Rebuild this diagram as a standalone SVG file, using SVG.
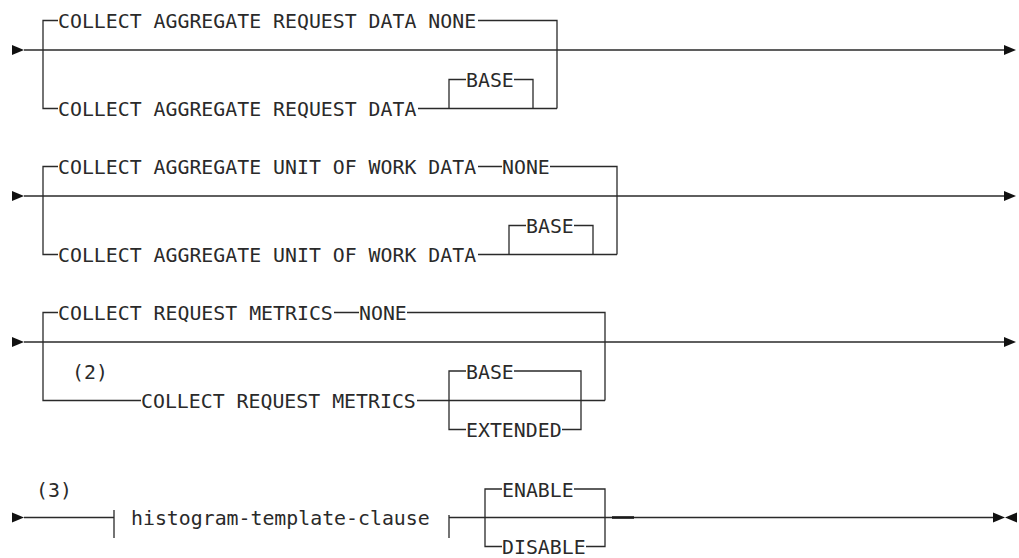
<svg xmlns="http://www.w3.org/2000/svg" width="1019" height="558" viewBox="0 0 1019 558">
<style>
  .ln { stroke: #2a2a2a; stroke-width: 1.3; fill: none; }
  .thick { stroke: #1a1a1a; stroke-width: 2.6; fill: none; }
  .ar { fill: #111; stroke: none; }
  text { font-family: "DejaVu Sans Mono", "Liberation Mono", monospace; font-size: 19.85px; fill: #2a2a2a; }
</style>
<rect width="1019" height="558" fill="#ffffff"/>
<g id="connectors">
  <!-- Row 1 -->
  <path class="ar" d="M12,45 L24,50 L12,55 Z"/>
  <path class="ln" d="M24,50 H1004"/>
  <path class="ar" d="M1004,45 L1016,50 L1004,55 Z"/>
  <path class="ln" d="M43,50 V20.5 H58 M478,20.5 H557 V108.5"/>
  <path class="ln" d="M43,50 V108.5 H58 M418,108.5 H557"/>
  <path class="ln" d="M449,108.5 V79.5 H466 M514,79.5 H533 V108.5"/>
  <!-- Row 2 -->
  <path class="ar" d="M12,191 L24,196 L12,201 Z"/>
  <path class="ln" d="M24,196 H1004"/>
  <path class="ar" d="M1004,191 L1016,196 L1004,201 Z"/>
  <path class="ln" d="M43,196 V166.5 H58 M478,166.5 H502 M550,166.5 H617 V254.5"/>
  <path class="ln" d="M43,196 V254.5 H58 M478,254.5 H617"/>
  <path class="ln" d="M509,254.5 V225.5 H526 M574,225.5 H593 V254.5"/>
  <!-- Row 3 -->
  <path class="ar" d="M12,337 L24,342 L12,347 Z"/>
  <path class="ln" d="M24,342 H1004"/>
  <path class="ar" d="M1004,337 L1016,342 L1004,347 Z"/>
  <path class="ln" d="M43,342 V312.5 H58 M334,312.5 H359 M407,312.5 H605 V400.5"/>
  <path class="ln" d="M43,342 V400.5 H141 M417,400.5 H605"/>
  <path class="ln" d="M466,371 H449 V429.5 H466 M514,371 H581 V429.5 H562"/>
  <!-- Row 4 -->
  <path class="ar" d="M12,512.5 L24,517.5 L12,522.5 Z"/>
  <path class="ln" d="M24,517.5 H114 M114,510 V538"/>
  <path class="ln" d="M449,515 V538 M449,517.5 H993"/>
  <path class="ln" d="M502,489 H485 V546.5 H502 M574,489 H605 V546.5 H586"/>
  <path class="thick" d="M612,517.5 H634"/>
  <path class="ar" d="M993,512.5 L1005,517.5 L993,522.5 Z"/>
  <path class="ar" d="M1017,512.5 L1005,517.5 L1017,522.5 Z"/>
</g>
<g id="n1-none"><text x="58" y="28">COLLECT AGGREGATE REQUEST DATA NONE</text></g>
<g id="n1-data"><text x="58" y="116">COLLECT AGGREGATE REQUEST DATA</text></g>
<g id="n1-base"><text x="466" y="87">BASE</text></g>
<g id="n2-data-top"><text x="58" y="174">COLLECT AGGREGATE UNIT OF WORK DATA</text></g>
<g id="n2-none"><text x="502" y="174">NONE</text></g>
<g id="n2-data"><text x="58" y="262">COLLECT AGGREGATE UNIT OF WORK DATA</text></g>
<g id="n2-base"><text x="526" y="233">BASE</text></g>
<g id="n3-metrics-top"><text x="58" y="320">COLLECT REQUEST METRICS</text></g>
<g id="n3-none"><text x="359" y="320">NONE</text></g>
<g id="n3-note"><text x="72" y="379">(2)</text></g>
<g id="n3-metrics"><text x="141" y="408">COLLECT REQUEST METRICS</text></g>
<g id="n3-base"><text x="466" y="378.5">BASE</text></g>
<g id="n3-extended"><text x="466" y="437">EXTENDED</text></g>
<g id="n4-note"><text x="36" y="497">(3)</text></g>
<g id="n4-histogram"><text x="131" y="525">histogram-template-clause</text></g>
<g id="n4-enable"><text x="502" y="496.5">ENABLE</text></g>
<g id="n4-disable"><text x="502" y="554">DISABLE</text></g>
</svg>
